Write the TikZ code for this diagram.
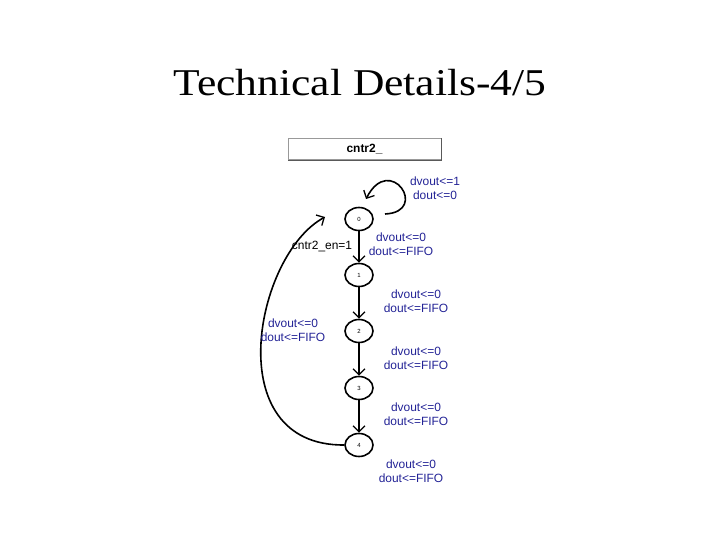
\documentclass[tikz,border=0pt]{standalone}
\usepackage{fontspec}
\setmainfont{Liberation Serif}
\setsansfont{Liberation Sans}
\usetikzlibrary{arrows.meta,shapes.geometric}
\definecolor{lblue}{RGB}{35,35,150}
\begin{document}
\begin{tikzpicture}[x=1bp,y=-1bp,
  st/.style={ellipse,draw,line width=1.6bp,minimum width=28bp,minimum height=23bp,inner sep=0pt,font=\sffamily\fontsize{6}{6}\selectfont},
  tr/.style={line width=1.6bp,-{Straight Barb[length=6bp,width=12bp,line width=1.3bp]}},
  act/.style={align=center,text=lblue,font=\sffamily\fontsize{12}{14.5}\selectfont,inner sep=0pt},
  cond/.style={text=black,font=\sffamily\fontsize{12}{14.5}\selectfont,inner sep=0pt},
]
\useasboundingbox (0,0) rectangle (720,540);
\node[font=\fontsize{38}{40}\selectfont,xscale=1.15,anchor=base,inner sep=0pt] (title) at (360,96) {Technical Details-4/5};
\node[draw=gray!80,line width=1bp,minimum width=153bp,minimum height=21bp,inner sep=0pt,font=\sffamily\bfseries\fontsize{12}{12}\selectfont] (box) at (364.5,149.5) {cntr2\_};
\draw[black!65,line width=1.3bp] (box.north east) -- (box.south east) -- (box.south west);

\node[st] (s0) at (359,219) {0};
\node[st] (s1) at (359,275) {1};
\node[st] (s2) at (359,331) {2};
\node[st] (s3) at (359,388) {3};
\node[st] (s4) at (359,445) {4};

\draw[tr] (s0) -- (s1);
\draw[tr] (s1) -- (s2);
\draw[tr] (s2) -- (s3);
\draw[tr] (s3) -- (s4);

\coordinate (ls) at (385,214);
\coordinate (le) at (366,199);
\draw[tr] (ls) .. controls (430,212) and (390,152) .. (le);

\coordinate (r0) at (325,217);
\draw[tr] (s4.west) .. controls (218,446) and (255,255) .. (r0);

\node[act] (aloop) at (435,188) {dvout<=1\\dout<=0};
\node[act] (a0) at (401,244) {dvout<=0\\dout<=FIFO};
\node[act] (a1) at (416,301) {dvout<=0\\dout<=FIFO};
\node[act] (a2) at (416,358) {dvout<=0\\dout<=FIFO};
\node[act] (a3) at (416,414) {dvout<=0\\dout<=FIFO};
\node[act] (a4) at (411,471) {dvout<=0\\dout<=FIFO};
\node[act] (aback) at (293,330) {dvout<=0\\dout<=FIFO};
\node[cond] (en) at (322,247) {cntr2\_en=1};
\end{tikzpicture}
\end{document}
